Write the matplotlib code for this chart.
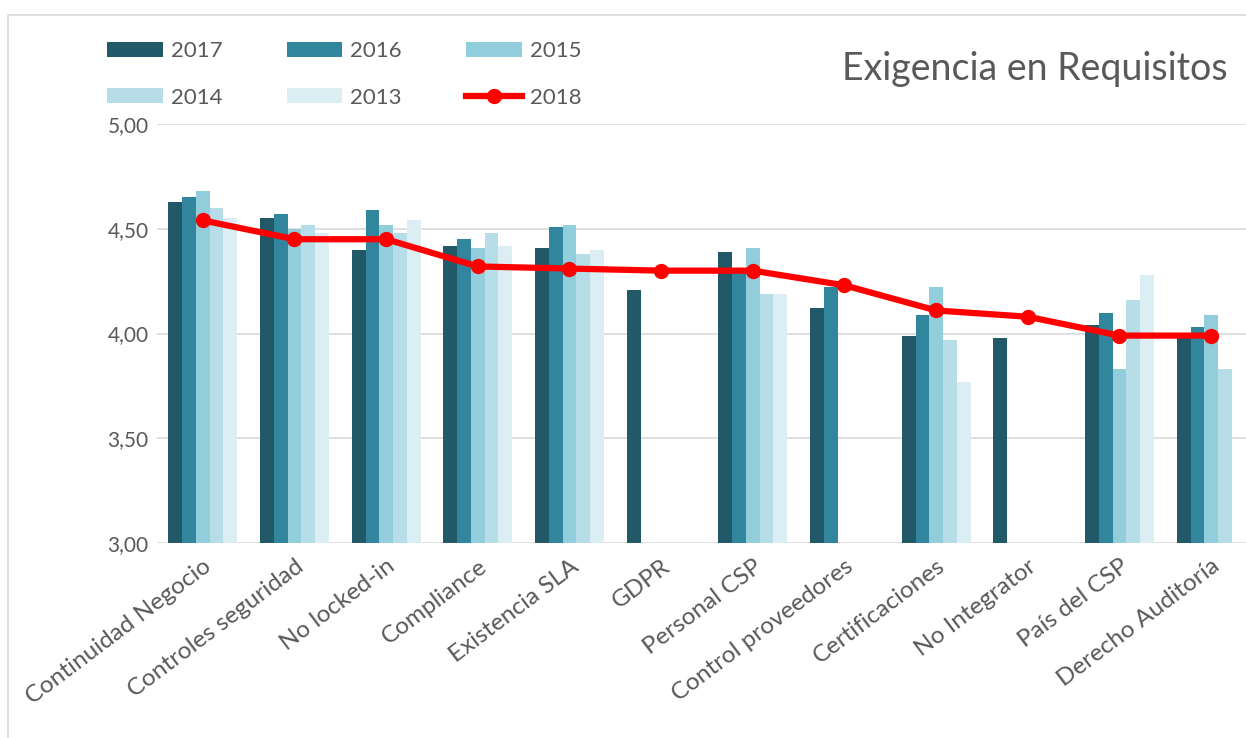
import matplotlib
matplotlib.use("Agg")
import matplotlib.pyplot as plt
import numpy as np
from matplotlib.patches import Rectangle

# ------------------------------------------------------------
# Data
# ------------------------------------------------------------
categories = [
    "Continuidad Negocio", "Controles seguridad", "No locked-in", "Compliance",
    "Existencia SLA", "GDPR", "Personal CSP", "Control proveedores",
    "Certificaciones", "No Integrator", "País del CSP", "Derecho Auditoría",
]
nan = np.nan
v2017 = [4.63, 4.55, 4.40, 4.42, 4.41, 4.21, 4.39, 4.12, 3.99, 3.98, 4.04, 3.99]
v2016 = [4.65, 4.57, 4.59, 4.45, 4.51, nan, 4.30, 4.22, 4.09, nan, 4.10, 4.03]
v2015 = [4.68, 4.50, 4.52, 4.41, 4.52, nan, 4.41, nan, 4.22, nan, 3.83, 4.09]
v2014 = [4.60, 4.52, 4.48, 4.48, 4.38, nan, 4.19, nan, 3.97, nan, 4.16, 3.83]
v2013 = [4.55, 4.48, 4.54, 4.42, 4.40, nan, 4.19, nan, 3.77, nan, 4.28, nan]
v2018 = [4.54, 4.45, 4.45, 4.32, 4.31, 4.30, 4.30, 4.23, 4.11, 4.08, 3.99, 3.99]

bar_years = ["2017", "2016", "2015", "2014", "2013"]
bar_values = [v2017, v2016, v2015, v2014, v2013]
bar_colors = ["#215968", "#31859C", "#92CDDC", "#B7DEE8", "#DAEEF3"]

yticks = [3.0, 3.5, 4.0, 4.5, 5.0]
ytick_labels = ["3,00", "3,50", "4,00", "4,50", "5,00"]

TEXT = "#595959"
GRID = "#D9D9D9"

plt.rcParams["font.family"] = ["Lato", "DejaVu Sans"]

fig = plt.figure(figsize=(12.46, 7.38), dpi=100)
ax = fig.add_axes([157 / 1246, 1 - 543 / 738, 1100 / 1246, 419 / 738])

# outer chart frame (partly off the canvas)
fig.patches.append(Rectangle((8 / 1246, -0.1), 1.2, (738 - 15) / 738 + 0.1,
                             transform=fig.transFigure, fill=False,
                             edgecolor=GRID, linewidth=1.2))

x = np.arange(len(categories))
width = 0.15
handles = {}
for i, (year, vals, col) in enumerate(zip(bar_years, bar_values, bar_colors)):
    offs = (i - 2) * width
    handles[year] = ax.bar(x + offs, vals, width, color=col, label=year, zorder=2)

line, = ax.plot(x, v2018, color="#FF0000", lw=4.5, marker="o", ms=10,
                label="2018", zorder=4)
handles["2018"] = line

ax.set_ylim(3.0, 5.0)
ax.set_xlim(-0.5, len(categories) - 0.5)
ax.set_yticks(yticks)
ax.set_yticklabels(ytick_labels)
ax.set_xticks(x)
ax.set_xticklabels(categories, rotation=37, ha="right", rotation_mode="anchor")
ax.tick_params(axis="both", length=0, colors=TEXT)
ax.tick_params(axis="y", pad=6, labelsize=15)
ax.tick_params(axis="x", pad=9, labelsize=17.5)
ax.grid(axis="y", color=GRID, linewidth=1.2, zorder=0)
for s in ax.spines.values():
    s.set_visible(False)

# column-major order so the rows read 2017/2016/2015 and 2014/2013/2018
order = ["2017", "2014", "2016", "2013", "2015", "2018"]
leg = fig.legend([handles[k] for k in order], order, ncol=3,
                 loc="upper left", bbox_to_anchor=(107 / 1246, 1 - 41 / 738),
                 frameon=False, borderpad=0, borderaxespad=0, fontsize=16,
                 handlelength=2.5, handleheight=0.65, handletextpad=0.36,
                 columnspacing=2.9, labelspacing=1.2)
for t in leg.get_texts():
    t.set_color(TEXT)

fig.text(1228 / 1246, 1 - 69 / 738, "Exigencia en Requisitos", ha="right",
         va="center", fontsize=27, color=TEXT)

fig.savefig("out.png", dpi=100)
